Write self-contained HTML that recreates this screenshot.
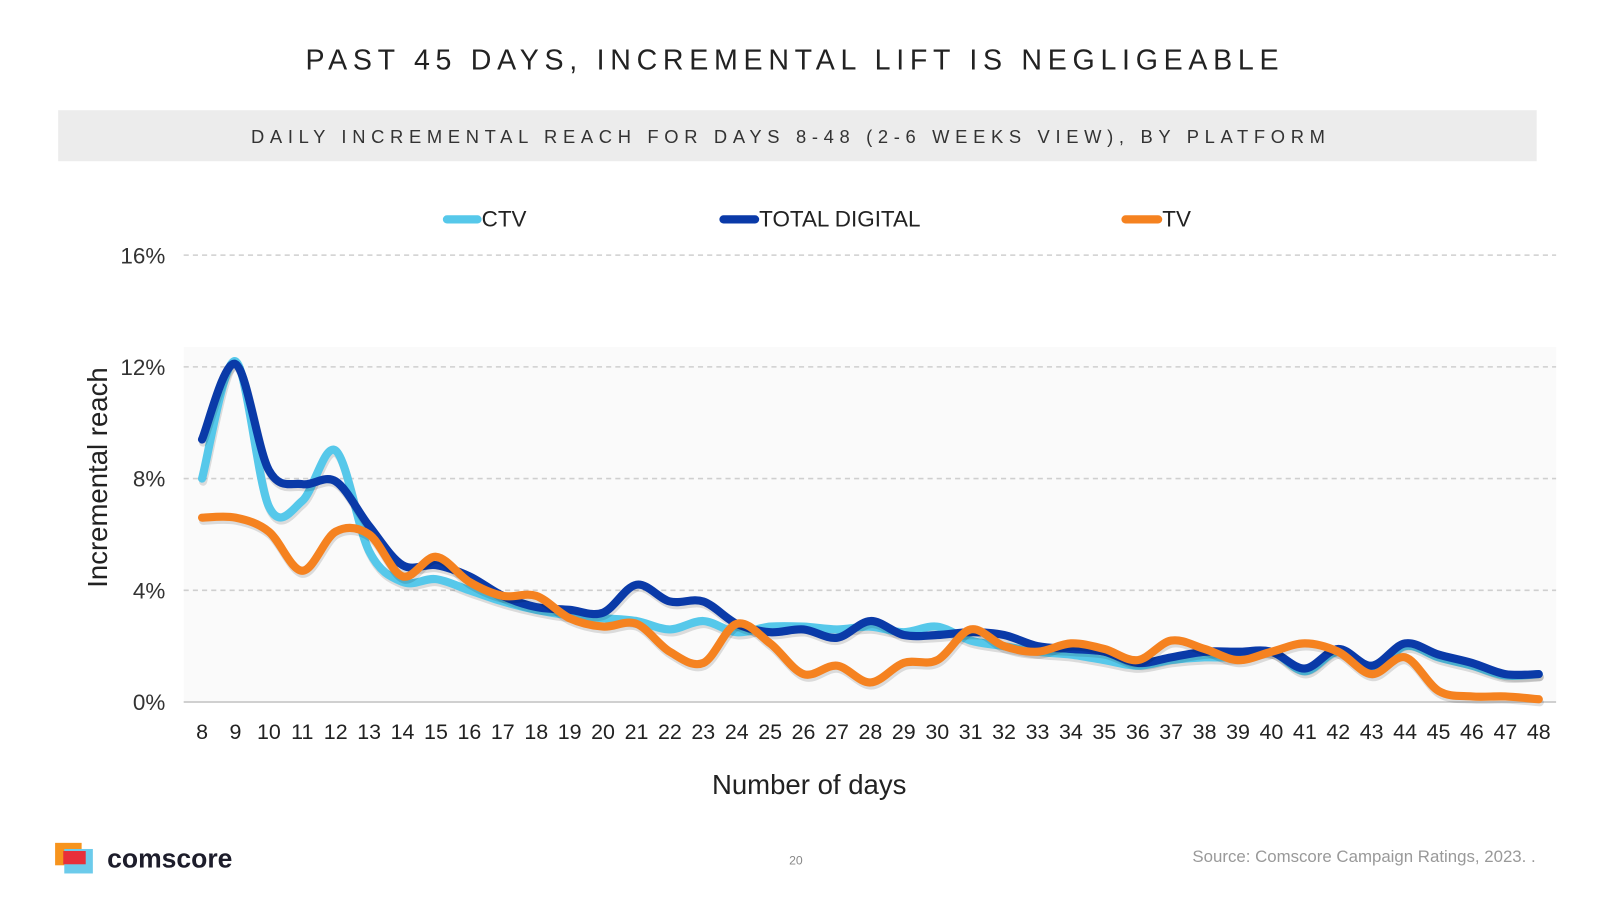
<!DOCTYPE html>
<html><head><meta charset="utf-8"><style>
body{margin:0;width:1600px;height:900px;background:#fff;font-family:"Liberation Sans",sans-serif;overflow:hidden}
svg text{font-family:"Liberation Sans",sans-serif}
</style></head><body>
<svg width="1600" height="900">
<g id="c" transform="scale(1.0204)">
<text x="779" y="68" font-size="28" letter-spacing="5.6" text-anchor="middle" fill="#222">PAST 45 DAYS, INCREMENTAL LIFT IS NEGLIGEABLE</text>
<rect x="57" y="108" width="1449" height="50" fill="#ececec"/>
<text x="775" y="140" font-size="18" letter-spacing="5.55" text-anchor="middle" fill="#333">DAILY INCREMENTAL REACH FOR DAYS 8-48 (2-6 WEEKS VIEW), BY PLATFORM</text>
<rect x="180" y="340" width="1345" height="348" fill="#fafafa"/>
<g id="grid"></g><g id="series"></g>
<g>
<line x1="438" y1="215" x2="468" y2="215" stroke="#56c8ea" stroke-width="8" stroke-linecap="round"/>
<text x="472" y="222" font-size="22" fill="#222">CTV</text>
<line x1="709" y1="215" x2="740" y2="215" stroke="#0a3aa8" stroke-width="8" stroke-linecap="round"/>
<text x="744" y="222" font-size="22" fill="#222">TOTAL DIGITAL</text>
<line x1="1103" y1="215" x2="1135" y2="215" stroke="#f58220" stroke-width="8" stroke-linecap="round"/>
<text x="1139" y="222" font-size="22" fill="#222">TV</text>
</g>
<text x="793" y="778" font-size="27" text-anchor="middle" fill="#222">Number of days</text>
<text transform="translate(105,468) rotate(-90)" font-size="27" text-anchor="middle" fill="#222">Incremental reach</text>
<g>
<rect x="54" y="826" width="26" height="22" fill="#f7941d"/>
<rect x="63" y="832" width="28" height="24" fill="#6ccbeb"/>
<rect x="62" y="834" width="22" height="13" fill="#e8303a"/>
<text x="105" y="850" font-size="26" font-weight="bold" fill="#1d1d2b">comscore</text>
</g>
<text x="780" y="847" font-size="12" text-anchor="middle" fill="#888">20</text>
<text x="1505" y="845" font-size="16.5" text-anchor="end" fill="#999">Source: Comscore Campaign Ratings, 2023. .</text>
</g>
</svg>
<script>
const days=[8,9,10,11,12,13,14,15,16,17,18,19,20,21,22,23,24,25,26,27,28,29,30,31,32,33,34,35,36,37,38,39,40,41,42,43,44,45,46,47,48];
const ctv=[8.0,12.2,7.0,7.2,9.0,5.4,4.3,4.4,4.0,3.6,3.3,3.1,3.0,2.9,2.6,2.9,2.5,2.7,2.7,2.6,2.7,2.5,2.7,2.2,2.0,1.8,1.7,1.5,1.3,1.5,1.6,1.6,1.8,1.1,1.8,1.1,2.0,1.6,1.3,0.95,1.0];
const digital=[9.4,12.1,8.3,7.8,7.9,6.3,4.9,4.9,4.5,3.8,3.4,3.3,3.2,4.2,3.6,3.6,2.8,2.5,2.6,2.3,2.9,2.4,2.4,2.5,2.4,2.0,1.9,1.8,1.4,1.6,1.8,1.8,1.8,1.2,1.9,1.3,2.1,1.7,1.4,1.0,1.0];
const tv=[6.6,6.6,6.1,4.7,6.1,6.0,4.5,5.2,4.3,3.8,3.8,3.0,2.7,2.8,1.8,1.4,2.8,2.1,1.0,1.3,0.7,1.4,1.5,2.6,2.0,1.8,2.1,1.9,1.5,2.2,1.9,1.5,1.8,2.1,1.8,1.0,1.6,0.4,0.2,0.2,0.1];
const yTicks=[0,4,8,12,16];
const NS='http://www.w3.org/2000/svg';
const x=d=>198+(d-8)*32.75;
const y=v=>688-v*27.375;
const grid=document.getElementById('grid'),ser=document.getElementById('series'),svg=document.getElementById('c');
function mk(t,a,p){const e=document.createElementNS(NS,t);for(const k in a)e.setAttribute(k,a[k]);(p||svg).appendChild(e);return e;}
yTicks.forEach(v=>{
 const l=mk('line',{x1:180,x2:1525,y1:y(v),y2:y(v),stroke:v==0?'#d0d0d0':'#cfcfcf','stroke-width':v==0?2:1.5,'stroke-dasharray':v==0?'':'5 4'},grid);
 
 
 const t=mk('text',{x:162,y:y(v)+8,'font-size':22,'text-anchor':'end',fill:'#333'},grid);
 t.textContent=v+'%';
 
 
});
days.forEach(d=>{
 const t=mk('text',{x:x(d),y:724,'font-size':21,'text-anchor':'middle',fill:'#222'},grid);
 t.textContent=d;
 
 
});
function path(vals){
 const p=vals.map((v,i)=>[x(days[i]),y(v)]);
 let s='M'+p[0][0]+','+p[0][1];
 for(let i=0;i<p.length-1;i++){
  const p0=p[Math.max(0,i-1)],p1=p[i],p2=p[i+1],p3=p[Math.min(p.length-1,i+2)];
  const c1=[p1[0]+(p2[0]-p0[0])/6,p1[1]+(p2[1]-p0[1])/6],c2=[p2[0]-(p3[0]-p1[0])/6,p2[1]-(p3[1]-p1[1])/6];
  s+=`C${c1[0]},${c1[1]} ${c2[0]},${c2[1]} ${p2[0]},${p2[1]}`;
 }
 return s;
}
[['ctv',ctv,'#56c8ea'],['total-digital',digital,'#0a3aa8'],['tv',tv,'#f58220']].forEach(([n,v,c])=>{
 mk('path',{d:path(v),fill:'none',stroke:'rgba(0,0,0,0.12)','stroke-width':8,transform:'translate(1,3)','stroke-linecap':'round'},ser);
 const e=mk('path',{d:path(v),fill:'none',stroke:c,'stroke-width':8,'stroke-linecap':'round','stroke-linejoin':'round'},ser);
 
 
});
</script>
</body></html>
